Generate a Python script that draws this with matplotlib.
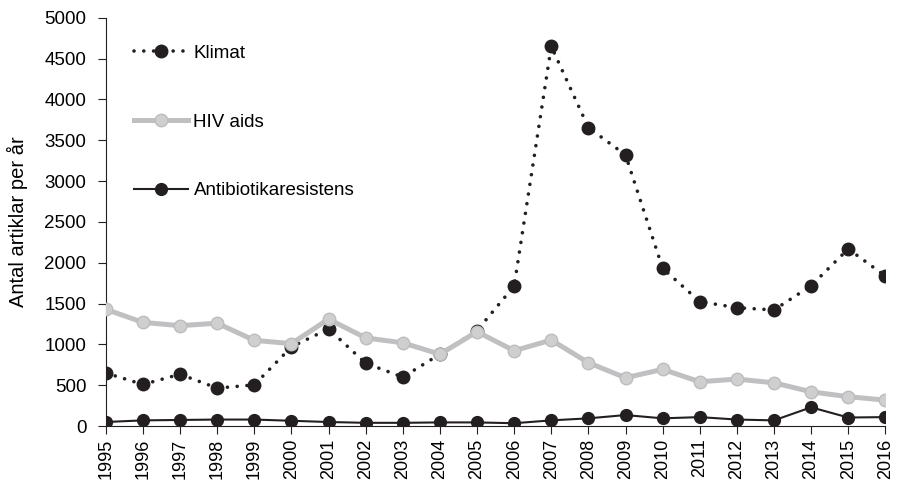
import matplotlib
matplotlib.use("Agg")
import matplotlib.pyplot as plt

plt.rcParams['font.family'] = ['Liberation Sans', 'DejaVu Sans']

years = list(range(1995, 2017))
klimat = [650, 510, 635, 465, 505, 970, 1190, 770, 600, 880, 1170, 1716,
          4650, 3656, 3321, 1932, 1525, 1450, 1422, 1719, 2170, 1838]
hiv = [1430, 1270, 1230, 1260, 1050, 1010, 1310, 1080, 1020, 880, 1156, 923,
       1054, 776, 592, 695, 543, 576, 530, 420, 360, 318]
antibiotika = [50, 70, 75, 80, 80, 65, 50, 40, 40, 45, 45, 35,
               70, 95, 135, 95, 110, 80, 70, 230, 105, 110]

fig = plt.figure(figsize=(8.97, 4.82), dpi=100)
ax = fig.add_axes([0.118, 0.116, 0.869, 0.847])

ax.plot(years, antibiotika, color='#231f20', lw=1.5, marker='o', ms=8.5,
        mfc='#231f20', mec='#231f20', label='Antibiotikaresistens', zorder=3)
ax.plot(years, klimat, color='#231f20', lw=2.6, linestyle=(0, (0.01, 2.7)),
        dash_capstyle='round', marker='o', ms=9, mfc='#231f20', mec='#231f20',
        label='Klimat', zorder=4)
ax.plot(years, hiv, color='#c0c0c2', lw=3.6, marker='o', ms=9,
        mfc='#cfcfd0', mec='#bdbdbf', label='HIV aids', zorder=5)

h, l = ax.get_legend_handles_labels()
order = [1, 2, 0]
ax.legend([h[i] for i in order], [l[i] for i in order], loc='upper left',
          bbox_to_anchor=(0.015, 0.975), frameon=False, fontsize=13.5,
          handlelength=2.85, handletextpad=0.3, labelspacing=2.75, numpoints=1)

ax.set_xlim(1995, 2016)
ax.set_ylim(0, 5000)
ax.set_xticks(years)
ax.set_xticklabels([str(y) for y in years], rotation=90, fontsize=13)
ax.set_yticks(range(0, 5001, 500))
ax.tick_params(axis='y', labelsize=13.5, direction='out', length=6,
               color='#231f20', pad=8)
ax.tick_params(axis='x', direction='out', length=6, color='#231f20', pad=3)
for s in ['top', 'right']:
    ax.spines[s].set_visible(False)
for s in ['left', 'bottom']:
    ax.spines[s].set_color('#231f20')
ax.set_ylabel('Antal artiklar per år', fontsize=14.5, labelpad=12)

fig.savefig('out.png', dpi=100)
